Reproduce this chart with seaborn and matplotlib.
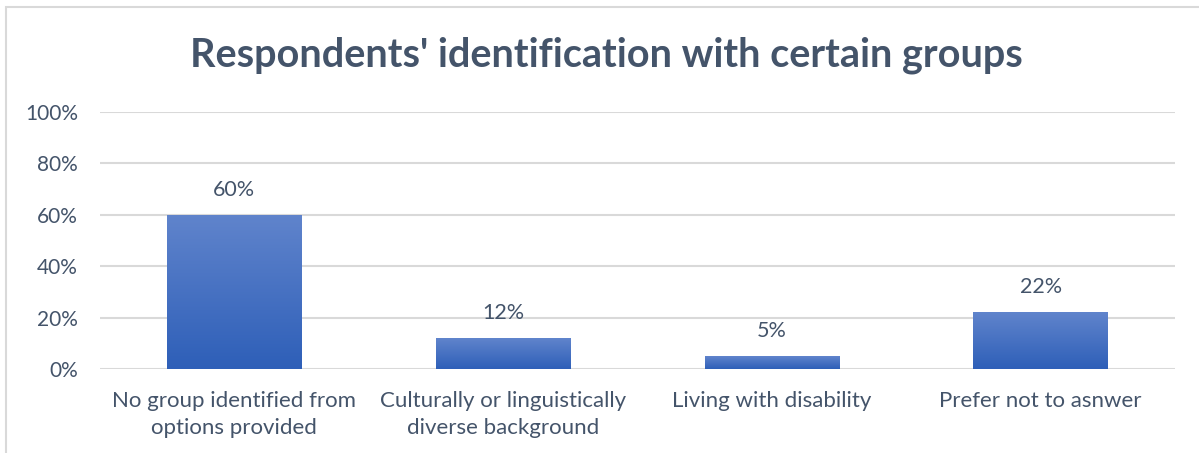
import numpy as np
import pandas as pd
import matplotlib
matplotlib.use("Agg")
import matplotlib.pyplot as plt
from matplotlib.colors import LinearSegmentedColormap
from matplotlib.patches import Rectangle
import seaborn as sns

# Survey results
categories = [
    "No group identified from\noptions provided",
    "Culturally or linguistically\ndiverse background",
    "Living with disability",
    "Prefer not to asnwer",
]
shares = [60, 12, 5, 22]
value_labels = ["60%", "12%", "5%", "22%"]
y_ticks = [0, 20, 40, 60, 80, 100]
y_tick_labels = ["0%", "20%", "40%", "60%", "80%", "100%"]
title = "Respondents' identification with certain groups"

sns.set_theme(style="white")
plt.rcParams["font.family"] = ["Lato", "DejaVu Sans"]

TEXT = "#44546A"
GRID = "#D9D9D9"

df = pd.DataFrame({"category": categories, "share": shares})

fig = plt.figure(figsize=(11.99, 4.53), dpi=100)
ax = fig.add_axes([100 / 1199, 1 - 369 / 453, (1175 - 100) / 1199, (369 - 112) / 453])

sns.barplot(data=df, x="category", y="share", ax=ax, width=0.5,
            color="#4472C4", saturation=1, edgecolor="none")

ax.set_ylim(0, 100)
ax.set_xlim(-0.5, len(categories) - 0.5)
ax.set_yticks(y_ticks)
ax.set_yticklabels(y_tick_labels)
ax.set_xlabel("")
ax.set_ylabel("")
ax.tick_params(axis="y", labelsize=15, colors=TEXT, length=0, pad=16)
ax.tick_params(axis="x", labelsize=16, colors=TEXT, length=0, pad=16)
for lab in ax.get_xticklabels():
    lab.set_linespacing(1.45)

ax.grid(axis="y", color=GRID, linewidth=1.5)
ax.set_axisbelow(True)
for s in ax.spines.values():
    s.set_visible(False)

# Vertical gradient fill clipped to each bar
grad = LinearSegmentedColormap.from_list("bar_grad", ["#2E5FB8", "#6084CC"])
gradient = np.linspace(0, 1, 256).reshape(-1, 1)
for patch in ax.patches:
    x0, y0 = patch.get_x(), patch.get_y()
    w, h = patch.get_width(), patch.get_height()
    im = ax.imshow(gradient, cmap=grad, origin="lower", aspect="auto",
                   extent=[x0, x0 + w, y0, y0 + h], zorder=patch.get_zorder() + 0.1)
    im.set_clip_path(patch)

ax.set_xlim(-0.5, len(categories) - 0.5)
ax.set_ylim(0, 100)

for i, (v, lbl) in enumerate(zip(shares, value_labels)):
    ax.annotate(lbl, (i, v), xytext=(0, 11), textcoords="offset points",
                ha="center", va="bottom", fontsize=15.5, color=TEXT)

fig.text(606 / 1199, 1 - 55 / 453, title, ha="center", va="center",
         fontsize=28.5, fontweight="bold", color=TEXT)

# Chart-area frame
fig.patches.append(Rectangle((6 / 1199, -0.1), 1.2, 1.1 - 7 / 453,
                             transform=fig.transFigure, fill=False,
                             edgecolor=GRID, linewidth=1.5))

fig.savefig("out.png", dpi=100, facecolor="white")
